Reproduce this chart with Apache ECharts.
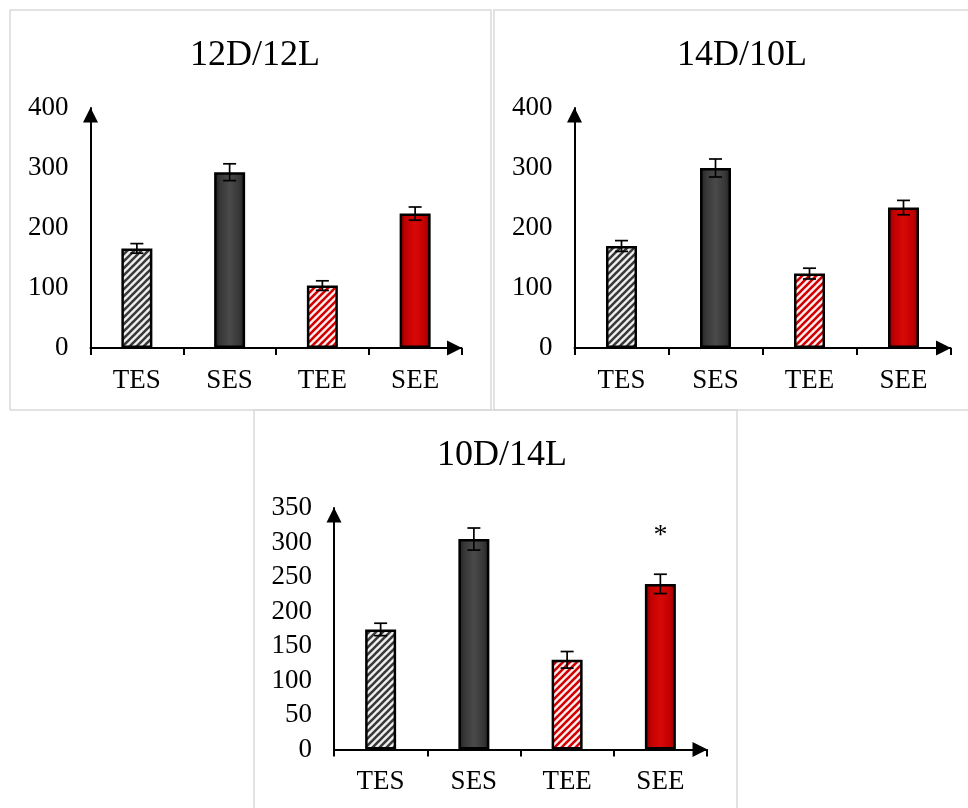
<!DOCTYPE html>
<html>
<head>
<meta charset="utf-8">
<title>Photoperiod bars</title>
<script src="https://cdn.jsdelivr.net/npm/echarts@6/dist/echarts.min.js"></script>
<style>
  html, body { margin: 0; padding: 0; background: #fff; }
  #chart { width: 968px; height: 808px; }
</style>
</head>
<body>
<div id="chart"></div>
<script>
// Groups along the x axis
const categories = ['TES', 'SES', 'TEE', 'SEE'];

// Panel titles (photoperiod regimes)
const titles = ['12D/12L', '14D/10L', '10D/14L'];

// Means and error half-widths per panel
const means12D = [166, 293, 104, 224];
const errors12D = [8, 14, 8, 11];
const means14D = [170, 300, 124, 234];
const errors14D = [9, 15, 9, 12];
const means10D = [174, 305, 130, 240];
const errors10D = [9, 16, 12, 14];

// Significance markers shown above the error bars
const marks12D = ['', '', '', ''];
const marks14D = ['', '', '', ''];
const marks10D = ['', '', '', '*'];

// Y-axis ranges and tick steps
const yMax = [400, 400, 350];
const yStep = [100, 100, 50];

const FONT = '"Liberation Serif", "Times New Roman", serif';

// Diagonal stripe tile for the hatched bars
function stripeTile(dark, light) {
  const s = 7;
  const c = document.createElement('canvas');
  c.width = s; c.height = s;
  const g = c.getContext('2d');
  g.fillStyle = light;
  g.fillRect(0, 0, s, s);
  g.strokeStyle = dark;
  g.lineWidth = 2.6;
  g.lineCap = 'square';
  [-s, 0, s].forEach(function (o) {
    g.beginPath();
    g.moveTo(o, s);
    g.lineTo(o + s, 0);
    g.stroke();
  });
  return { image: c, repeat: 'repeat' };
}

function barGradient(edge, mid, centre) {
  return new echarts.graphic.LinearGradient(0, 0, 1, 0, [
    { offset: 0, color: edge },
    { offset: 0.18, color: mid },
    { offset: 0.5, color: centre },
    { offset: 0.82, color: mid },
    { offset: 1, color: edge }
  ]);
}

const fills = [
  stripeTile('#3a3a3a', '#f0f0f0'),
  barGradient('#1c1c1c', '#363636', '#4a4a4a'),
  stripeTile('#d20000', '#fbefef'),
  barGradient('#7e0000', '#c00000', '#d80808')
];

const panels = [
  { means: means12D, errors: errors12D, marks: marks12D },
  { means: means14D, errors: errors14D, marks: marks14D },
  { means: means10D, errors: errors10D, marks: marks10D }
];

const grids = [
  { left: 90.5, top: 108, width: 371, height: 240 },
  { left: 574.5, top: 108, width: 376, height: 240 },
  { left: 334, top: 508, width: 373, height: 241.5 }
];

const titleSpots = [
  { x: 250, y: 33 },
  { x: 737, y: 33 },
  { x: 497, y: 433 }
];

const axisLine = function () {
  return {
    show: true,
    symbol: ['none', 'triangle'],
    symbolSize: [15, 15],
    symbolOffset: [0, -7],
    lineStyle: { color: '#000', width: 2 }
  };
};

const option = {
  backgroundColor: '#fff',
  animation: false,
  title: titles.map(function (t, i) {
    return {
      text: t,
      left: titleSpots[i].x,
      top: titleSpots[i].y,
      textAlign: 'center',
      textStyle: { fontFamily: FONT, fontSize: 36, fontWeight: 'normal', color: '#000' }
    };
  }),
  graphic: [
    { type: 'rect', shape: { x: 10, y: 10, width: 481, height: 400 }, style: { fill: 'none', stroke: '#d9d9d9', lineWidth: 1.5 }, silent: true },
    { type: 'rect', shape: { x: 494, y: 10, width: 490, height: 400 }, style: { fill: 'none', stroke: '#d9d9d9', lineWidth: 1.5 }, silent: true },
    { type: 'rect', shape: { x: 254, y: 410, width: 483, height: 420 }, style: { fill: 'none', stroke: '#d9d9d9', lineWidth: 1.5 }, silent: true }
  ],
  grid: grids,
  xAxis: grids.map(function (g, i) {
    return {
      type: 'category',
      gridIndex: i,
      data: categories,
      boundaryGap: true,
      axisLine: axisLine(),
      axisTick: { show: true, length: 7, lineStyle: { color: '#000', width: 2 } },
      axisLabel: { fontFamily: FONT, fontSize: 27, color: '#000', margin: 19 },
      splitLine: { show: false }
    };
  }),
  yAxis: grids.map(function (g, i) {
    return {
      type: 'value',
      gridIndex: i,
      min: 0,
      max: yMax[i],
      interval: yStep[i],
      axisLine: axisLine(),
      axisTick: { show: false },
      axisLabel: { fontFamily: FONT, fontSize: 27, color: '#000', margin: 22 },
      splitLine: { show: false }
    };
  }),
  series: []
};

panels.forEach(function (p, i) {
  option.series.push({
    type: 'bar',
    xAxisIndex: i,
    yAxisIndex: i,
    barWidth: 31,
    data: p.means.map(function (v, k) {
      return {
        value: v,
        itemStyle: { color: fills[k], borderColor: '#000', borderWidth: 2.5 }
      };
    }),
    z: 2
  });
  option.series.push({
    type: 'custom',
    xAxisIndex: i,
    yAxisIndex: i,
    z: 5,
    encode: { x: 0, y: 1 },
    data: p.means.map(function (v, k) { return [k, v, p.errors[k], p.marks[k]]; }),
    renderItem: function (params, api) {
      const k = api.value(0);
      const v = api.value(1);
      const e = api.value(2);
      const hi = api.coord([k, v + e]);
      const lo = api.coord([k, v - e]);
      const cap = 6.5;
      const st = { stroke: '#000', lineWidth: 1.7 };
      const children = [
        { type: 'line', shape: { x1: hi[0], y1: hi[1], x2: lo[0], y2: lo[1] }, style: st },
        { type: 'line', shape: { x1: hi[0] - cap, y1: hi[1], x2: hi[0] + cap, y2: hi[1] }, style: st },
        { type: 'line', shape: { x1: lo[0] - cap, y1: lo[1], x2: lo[0] + cap, y2: lo[1] }, style: st }
      ];
      const mark = p.marks[params.dataIndex];
      if (mark) {
        children.push({
          type: 'text',
          style: {
            text: mark, x: hi[0], y: hi[1] - 39,
            align: 'center', verticalAlign: 'middle',
            font: '28px ' + FONT, fill: '#000'
          }
        });
      }
      return { type: 'group', children: children };
    }
  });
});

const chart = echarts.init(document.getElementById('chart'), null, { renderer: 'canvas' });
chart.setOption(option);
</script>
</body>
</html>
